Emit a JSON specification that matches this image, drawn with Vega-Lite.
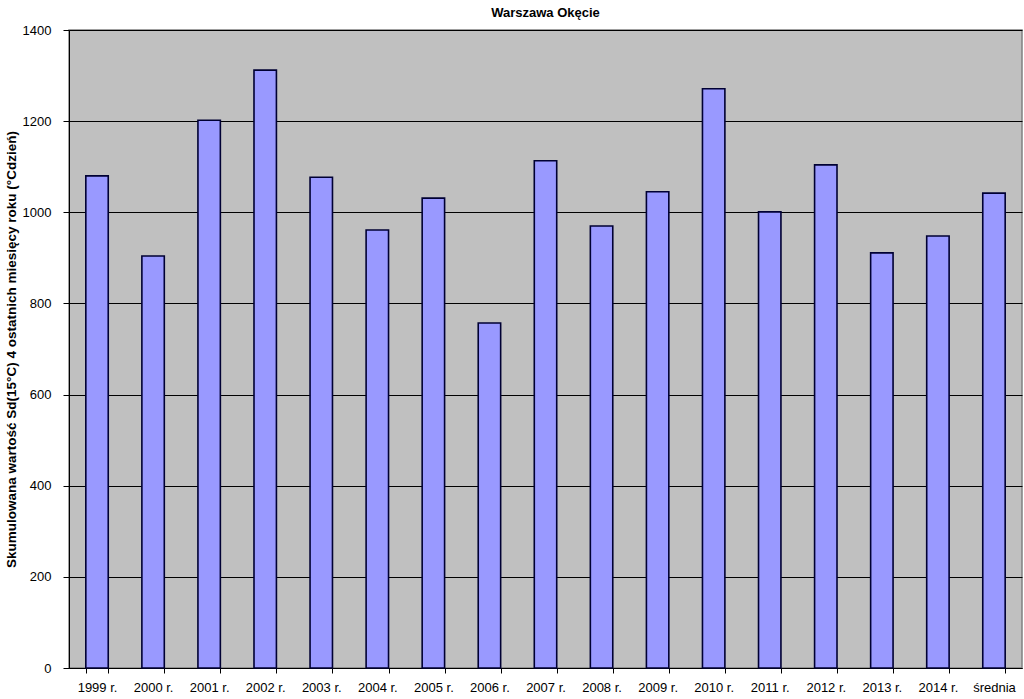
{
  "$schema": "https://vega.github.io/schema/vega-lite/v6.json",
  "autosize": {"type": "none"},
  "width": 953,
  "height": 638,
  "padding": {"left": 69, "top": 30, "right": 2, "bottom": 31},
  "background": "white",
  "title": {
    "text": "Warszawa Okęcie",
    "font": "Liberation Sans",
    "fontSize": 13,
    "fontWeight": "bold",
    "color": "#000000",
    "offset": 4
  },
  "data": {
    "values": [
      {"rok": "1999 r.", "wartosc": 1080},
      {"rok": "2000 r.", "wartosc": 904},
      {"rok": "2001 r.", "wartosc": 1202},
      {"rok": "2002 r.", "wartosc": 1312},
      {"rok": "2003 r.", "wartosc": 1077},
      {"rok": "2004 r.", "wartosc": 961},
      {"rok": "2005 r.", "wartosc": 1031},
      {"rok": "2006 r.", "wartosc": 757},
      {"rok": "2007 r.", "wartosc": 1113},
      {"rok": "2008 r.", "wartosc": 970},
      {"rok": "2009 r.", "wartosc": 1045},
      {"rok": "2010 r.", "wartosc": 1271},
      {"rok": "2011 r.", "wartosc": 1001},
      {"rok": "2012 r.", "wartosc": 1104},
      {"rok": "2013 r.", "wartosc": 911},
      {"rok": "2014 r.", "wartosc": 948},
      {"rok": "średnia", "wartosc": 1042}
    ]
  },
  "mark": {"type": "bar", "fill": "#9999ff", "stroke": "#000033", "strokeWidth": 1.6},
  "encoding": {
    "x": {
      "field": "rok",
      "type": "nominal",
      "sort": null,
      "scale": {"paddingInner": 0.6, "paddingOuter": 0.3},
      "axis": {
        "title": null,
        "labelAngle": 0,
        "tickBand": "extent",
        "grid": false,
        "domainColor": "#000000",
        "tickColor": "#000000",
        "tickSize": 5,
        "labelPadding": 8,
        "labelFont": "Liberation Sans",
        "labelFontSize": 13,
        "labelColor": "#000000"
      }
    },
    "y": {
      "field": "wartosc",
      "type": "quantitative",
      "scale": {"domain": [0, 1400], "nice": false},
      "axis": {
        "title": "Skumulowana wartość Sd(15°C) 4 ostatnich miesięcy roku (°Cdzień)",
        "titleFont": "Liberation Sans",
        "titleFontSize": 13.5,
        "titleFontWeight": "bold",
        "titleColor": "#000000",
        "titlePadding": 4,
        "values": [0, 200, 400, 600, 800, 1000, 1200, 1400],
        "format": "d",
        "grid": true,
        "gridColor": "#000000",
        "gridOpacity": 1,
        "gridWidth": 1,
        "domainColor": "#000000",
        "tickColor": "#000000",
        "tickSize": 6,
        "labelPadding": 12,
        "labelFont": "Liberation Sans",
        "labelFontSize": 13,
        "labelColor": "#000000"
      }
    }
  },
  "config": {
    "view": {"fill": "#c0c0c0", "stroke": "#808080", "strokeWidth": 1.5}
  }
}
